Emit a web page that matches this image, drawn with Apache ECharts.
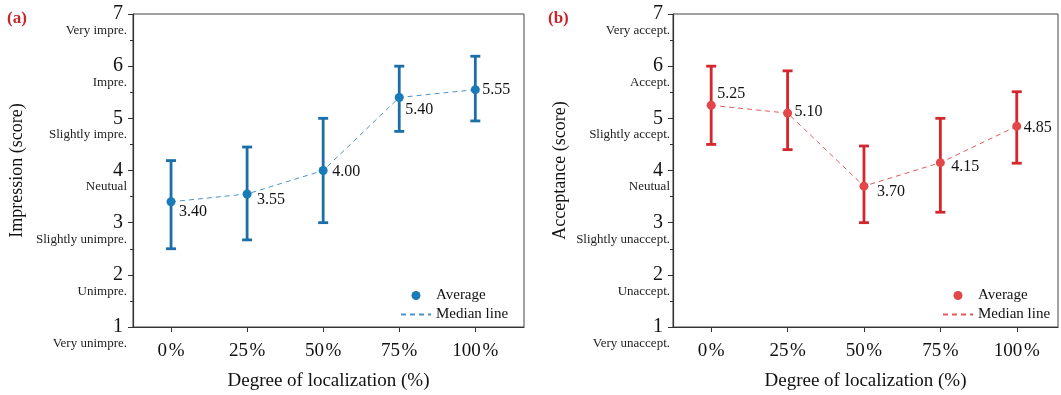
<!DOCTYPE html>
<html>
<head>
<meta charset="utf-8">
<script src="https://cdn.jsdelivr.net/npm/echarts@6/dist/echarts.min.js"></script>
<style>
  html, body { margin: 0; padding: 0; background: #fff; }
  #wrap { position: relative; width: 1061px; height: 395px; overflow: hidden; }
  .panel { position: absolute; top: 0; height: 395px; }
  #chartA { left: 0; width: 540px; }
  #chartB { left: 530px; width: 531px; }
</style>
</head>
<body>
<div id="wrap">
  <div id="chartA" class="panel"></div>
  <div id="chartB" class="panel"></div>
</div>
<script>
// degree of localization (%)
const xValues = [0, 25, 50, 75, 100]

// (a) impression
const impressionMean = [3.40, 3.55, 4.00, 5.40, 5.55]
const impressionMedian = [3.40, 3.55, 4.00, 5.40, 5.55]
const impressionLow = [2.50, 2.67, 3.00, 4.75, 4.95]
const impressionHigh = [4.19, 4.45, 5.00, 6.00, 6.19]
const impressionLevels = ['Very unimpre.', 'Unimpre.', 'Slightly unimpre.', 'Neutual', 'Slightly impre.', 'Impre.', 'Very impre.']

// (b) acceptance
const acceptanceMean = [5.25, 5.10, 3.70, 4.15, 4.85]
const acceptanceMedian = [5.25, 5.10, 3.70, 4.15, 4.85]
const acceptanceLow = [4.50, 4.40, 3.00, 3.20, 4.14]
const acceptanceHigh = [6.00, 5.91, 4.47, 5.00, 5.51]
const acceptanceLevels = ['Very unaccept.', 'Unaccept.', 'Slightly unaccept.', 'Neutual', 'Slightly accept.', 'Accept.', 'Very accept.']

const FONT = '"Liberation Serif", "DejaVu Serif", serif'

// where each value label sits next to its dot (dx to text left edge, dy to text middle)
const labelOffsetsA = [[8, 10], [10, 6], [9, 1], [6, 12], [7, 0]]
const labelOffsetsB = [[6, -11], [7, -1], [13, 6], [11, 4], [7, 2]]

function errorBar (color) {
  return function (params, api) {
    let x = api.value(0)
    let top = api.coord([x, api.value(2)])
    let bot = api.coord([x, api.value(1)])
    let hw = 5
    let st = { stroke: color, lineWidth: 2.8 }
    return {
      type: 'group',
      children: [
        { type: 'line', shape: { x1: top[0], y1: top[1], x2: bot[0], y2: bot[1] }, style: st },
        { type: 'line', shape: { x1: top[0] - hw, y1: top[1], x2: top[0] + hw, y2: top[1] }, style: st },
        { type: 'line', shape: { x1: bot[0] - hw, y1: bot[1], x2: bot[0] + hw, y2: bot[1] }, style: st }
      ]
    }
  }
}

function makePanel (el, cfg) {
  let chart = echarts.init(el)
  let levels = cfg.levels
  chart.setOption({
    animation: false,
    textStyle: { fontFamily: FONT },
    title: {
      text: cfg.tag,
      left: cfg.tagLeft,
      top: 10,
      padding: 0,
      textStyle: { fontFamily: FONT, fontSize: 17, fontWeight: 'bold', color: '#c8262b' }
    },
    grid: {
      left: cfg.gridLeft,
      top: 14,
      width: cfg.gridWidth,
      height: 313,
      outerBoundsMode: 'none',
      containLabel: false,
      show: true,
      borderColor: '#444',
      borderWidth: 1
    },
    legend: {
      orient: 'vertical',
      left: cfg.legendLeft,
      top: 288,
      padding: 0,
      itemWidth: 30,
      itemHeight: 9,
      itemGap: 4,
      textStyle: { fontFamily: FONT, fontSize: 15, color: '#111' },
      data: [
        { name: 'Average' },
        { name: 'Median line', itemStyle: { opacity: 0 } }
      ]
    },
    xAxis: {
      type: 'value',
      min: -12.5,
      max: cfg.xMax,
      name: 'Degree of localization (%)',
      nameLocation: 'middle',
      nameGap: 45,
      nameTextStyle: { fontFamily: FONT, fontSize: 19, color: '#111' },
      splitLine: { show: false },
      axisLine: { onZero: false, lineStyle: { color: '#333', width: 1.2 } },
      axisTick: { customValues: xValues, length: 5, lineStyle: { color: '#333' } },
      axisLabel: {
        customValues: xValues,
        formatter: '{value}\u200a%',
        margin: 15,
        fontFamily: FONT,
        fontSize: 19,
        color: '#111'
      }
    },
    yAxis: [
      {
        type: 'value',
        min: 1,
        max: 7,
        interval: 1,
        name: cfg.yName,
        nameLocation: 'middle',
        nameRotate: 90,
        nameGap: cfg.nameGap,
        nameTextStyle: { fontFamily: FONT, fontSize: 18, color: '#111' },
        splitLine: { show: false },
        axisLine: { show: true, onZero: false, lineStyle: { color: '#333', width: 1.2 } },
        axisTick: { show: true, length: 5, lineStyle: { color: '#333' } },
        minorTick: { show: true, splitNumber: 2, length: 3, lineStyle: { color: '#333' } },
        axisLabel: { margin: 10, interval: 0, fontFamily: FONT, fontSize: 20, color: '#111' }
      },
      {
        type: 'value',
        min: 1,
        max: 7,
        interval: 1,
        position: 'left',
        offset: 0,
        splitLine: { show: false },
        axisLine: { show: false, onZero: false },
        axisTick: { show: false },
        axisLabel: {
          margin: cfg.descMargin,
          interval: 0,
          showMinLabel: true,
          showMaxLabel: true,
          hideOverlap: false,
          verticalAlign: 'top',
          padding: [10, 0, 0, 0],
          fontFamily: FONT,
          fontSize: 13,
          lineHeight: 13,
          color: '#222',
          formatter: function (v) { return levels[Math.round(v) - 1] }
        }
      }
    ],
    series: [
      {
        name: 'Median line',
        type: 'line',
        symbol: 'none',
        z: 2,
        lineStyle: { color: cfg.dashColor, width: 1, type: [5, 4] },
        itemStyle: { color: cfg.dashColor },
        data: xValues.map((x, i) => [x, cfg.median[i]])
      },
      {
        name: 'errors',
        type: 'custom',
        z: 3,
        renderItem: errorBar(cfg.barColor),
        data: xValues.map((x, i) => [x, cfg.low[i], cfg.high[i]])
      },
      {
        name: 'Average',
        type: 'scatter',
        symbolSize: 9,
        z: 4,
        itemStyle: { color: cfg.dotColor, opacity: 1 },
        data: xValues.map((x, i) => ({
          value: [x, cfg.mean[i]],
          label: {
            show: true,
            position: 'right',
            distance: 0,
            offset: [cfg.offsets[i][0] - 4.5, cfg.offsets[i][1]],
            formatter: cfg.mean[i].toFixed(2),
            fontFamily: FONT,
            fontSize: 16,
            color: '#111'
          }
        }))
      }
    ]
  })
}

makePanel(document.getElementById('chartA'), {
  tag: '(a)', tagLeft: 7,
  gridLeft: 133, gridWidth: 391, xMax: 116,
  yName: 'Impression (score)', nameGap: 107, descMargin: 6,
  legendLeft: 400,
  levels: impressionLevels,
  mean: impressionMean, median: impressionMedian, low: impressionLow, high: impressionHigh,
  offsets: labelOffsetsA,
  barColor: '#1c6ea8', dotColor: '#1a7bb9', dashColor: '#4b93c9'
})

makePanel(document.getElementById('chartB'), {
  tag: '(b)', tagLeft: 18,
  gridLeft: 143, gridWidth: 385, xMax: 113.5,
  yName: 'Acceptance (score)', nameGap: 104, descMargin: 3,
  legendLeft: 412,
  levels: acceptanceLevels,
  mean: acceptanceMean, median: acceptanceMedian, low: acceptanceLow, high: acceptanceHigh,
  offsets: labelOffsetsB,
  barColor: '#d3272b', dotColor: '#e2474a', dashColor: '#e45a5c'
})
</script>
</body>
</html>
